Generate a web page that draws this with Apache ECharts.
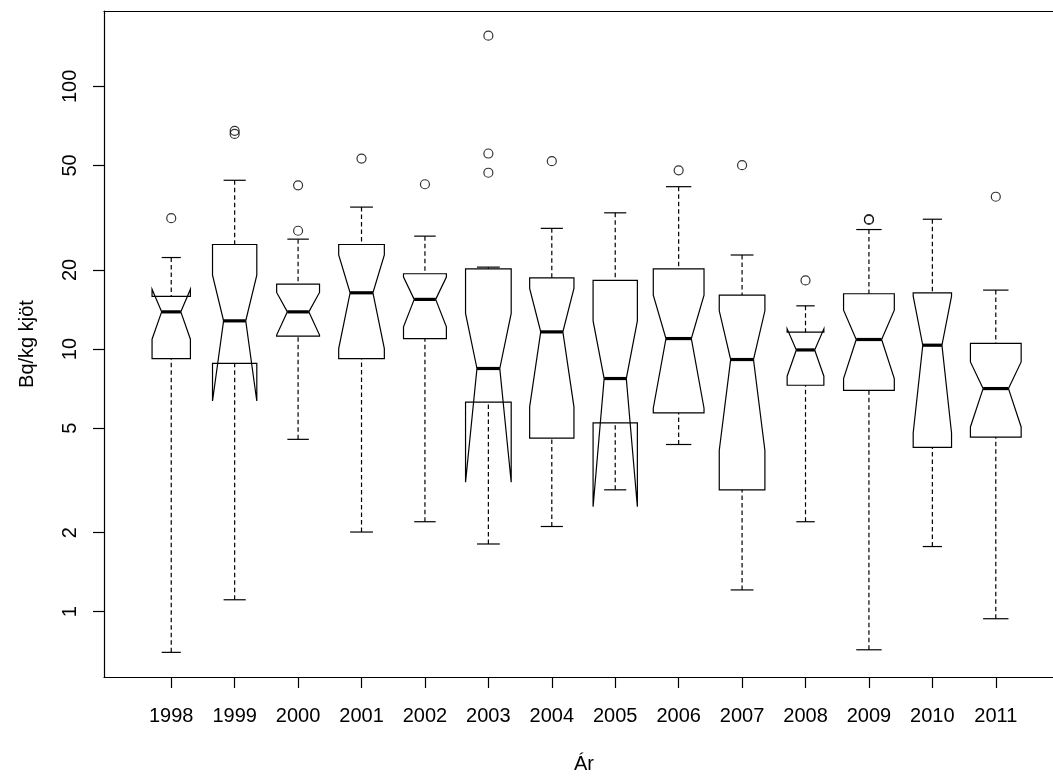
<!DOCTYPE html>
<html>
<head>
<meta charset="utf-8">
<script src="https://cdn.jsdelivr.net/npm/echarts@6/dist/echarts.min.js"></script>
<style>
  html, body { margin: 0; padding: 0; background: #ffffff; }
  #chart { width: 1053px; height: 776px; }
</style>
</head>
<body>
<div id="chart"></div>
<script>
// Cs-137 in lamb meat per year (Bq/kg), notched boxplot on a log scale
const years = ['1998', '1999', '2000', '2001', '2002', '2003', '2004',
               '2005', '2006', '2007', '2008', '2009', '2010', '2011'];

const lowerWhisker = [0.70, 1.11, 4.53, 2.01, 2.20, 1.81, 2.11, 2.91, 4.33, 1.21, 2.20, 0.716, 1.77, 0.94];
const lowerHinge   = [9.20, 8.81, 11.2, 9.20, 10.96, 6.28, 4.58, 5.23, 5.71, 2.91, 7.28, 6.96, 4.22, 4.62];
const notchLow     = [10.9, 6.34, 11.3, 10.04, 12.14, 3.11, 6.02, 2.51, 5.95, 4.11, 7.88, 7.72, 4.79, 5.05];
const median       = [13.85, 12.8, 13.85, 16.37, 15.45, 8.43, 11.62, 7.72, 10.96, 9.12, 9.92, 10.87, 10.34, 7.07];
const notchHigh    = [16.9, 19.1, 16.42, 22.8, 18.8, 13.66, 17.0, 12.8, 16.04, 13.98, 11.93, 14.06, 15.9, 8.93];
const upperHinge   = [15.86, 25.0, 17.66, 25.0, 19.34, 20.2, 18.67, 18.25, 20.2, 16.04, 11.59, 16.23, 16.37, 10.5];
const upperWhisker = [22.3, 43.9, 26.2, 34.7, 26.9, 20.5, 28.8, 33.0, 41.5, 22.8, 14.6, 28.5, 31.2, 16.76];
const sampleSize   = [12, 16, 15, 17, 15, 17, 16, 16, 21, 17, 11, 21, 12, 21];

const outliers = [
  [31.5],
  [67.7, 65.9],
  [42.0, 28.2],
  [53.1],
  [42.4],
  [156, 55.5, 46.9],
  [51.9],
  [],
  [47.9],
  [50.1],
  [18.25],
  [31.2, 31.0],
  [],
  [38.0]
];

const yTickValues = [1, 2, 5, 10, 20, 50, 100];

// ---- derived series data ----
const maxN = Math.max.apply(null, sampleSize);
const boxData = years.map((y, i) => [
  i + 1, lowerWhisker[i], lowerHinge[i], notchLow[i], median[i],
  notchHigh[i], upperHinge[i], upperWhisker[i], sampleSize[i]
]);
const outlierData = [];
outliers.forEach((list, i) => list.forEach(v => outlierData.push([i + 1, v])));
const xTickValues = years.map((y, i) => i + 1);

const INK = '#000000';
const FONT = '"Liberation Sans", Arial, Helvetica, sans-serif';
const LW = 1.2;

function renderBox(params, api) {
  const x = api.value(0);
  const lw = api.value(1), b1 = api.value(2), nl = api.value(3), md = api.value(4);
  const nh = api.value(5), b3 = api.value(6), uw = api.value(7), n = api.value(8);
  // box width grows with the square root of the group size
  const half = 0.4 * Math.sqrt(n / maxN);
  const notchHalf = half * 0.5;
  const stapleHalf = half * 0.5;
  const P = (dx, v) => api.coord([x + dx, v]);

  const outline = [
    P(-half, b1), P(-half, nl), P(-notchHalf, md), P(-half, nh), P(-half, b3),
    P(half, b3), P(half, nh), P(notchHalf, md), P(half, nl), P(half, b1)
  ];
  const lineStyle = { stroke: INK, lineWidth: LW, fill: null };
  const dashStyle = { stroke: INK, lineWidth: LW, lineDash: [4.5, 3], fill: null };

  const seg = (a, b, style) => ({
    type: 'line',
    shape: { x1: a[0], y1: a[1], x2: b[0], y2: b[1] },
    style: style
  });

  return {
    type: 'group',
    children: [
      { type: 'polygon', shape: { points: outline }, style: { stroke: INK, lineWidth: LW, fill: 'rgba(0,0,0,0)' } },
      seg(P(-notchHalf, md), P(notchHalf, md), { stroke: INK, lineWidth: 3.2 }),
      seg(P(0, lw), P(0, b1), dashStyle),
      seg(P(0, uw), P(0, b3), dashStyle),
      seg(P(-stapleHalf, lw), P(stapleHalf, lw), lineStyle),
      seg(P(-stapleHalf, uw), P(stapleHalf, uw), lineStyle)
    ]
  };
}

// horizontal extent: the plot region runs from -0.06 and is cut at the right page edge
const X_MIN = -0.06;
const X_MAX = 14.902;

const chart = echarts.init(document.getElementById('chart'), null, { renderer: 'canvas' });
chart.setOption({
  animation: false,
  backgroundColor: '#ffffff',
  textStyle: { fontFamily: FONT },
  grid: {
    left: 104, top: 11, right: 0, height: 666,
    outerBoundsMode: 'none',
    containLabel: false,
    show: false
  },
  xAxis: [
    {
      type: 'value',
      min: X_MIN, max: X_MAX,
      position: 'bottom',
      name: 'Ár',
      nameLocation: 'middle',
      nameGap: 77,
      nameTextStyle: { fontFamily: FONT, fontSize: 20, color: INK, padding: [0, 0, 0, 11] },
      axisLine: { show: true, onZero: false, lineStyle: { color: INK, width: LW } },
      splitLine: { show: false },
      axisTick: { show: true, inside: false, length: 11, customValues: xTickValues, lineStyle: { color: INK, width: LW } },
      axisLabel: {
        show: true, margin: 29, fontFamily: FONT, fontSize: 20, color: INK,
        customValues: xTickValues,
        formatter: v => years[Math.round(v) - 1] || ''
      }
    },
    {
      // top edge of the plot frame
      type: 'value',
      min: X_MIN, max: X_MAX,
      position: 'top',
      axisLine: { show: true, onZero: false, lineStyle: { color: INK, width: LW } },
      axisTick: { show: false },
      axisLabel: { show: false },
      splitLine: { show: false }
    }
  ],
  yAxis: {
    type: 'log',
    logBase: 10,
    min: 0.564, max: 193.6,
    name: 'Bq/kg kjöt',
    nameLocation: 'middle',
    nameRotate: 90,
    nameGap: 67,
    nameTextStyle: { fontFamily: FONT, fontSize: 20, color: INK },
    axisLine: { show: true, onZero: false, lineStyle: { color: INK, width: LW } },
    splitLine: { show: false },
    axisTick: { show: true, inside: false, length: 11, customValues: yTickValues, lineStyle: { color: INK, width: LW } },
    axisLabel: {
      show: true, rotate: 90, margin: 24, fontFamily: FONT, fontSize: 20, color: INK,
      customValues: yTickValues,
      formatter: v => {
        let best = yTickValues[0];
        yTickValues.forEach(t => { if (Math.abs(Math.log10(t) - Math.log10(v)) < Math.abs(Math.log10(best) - Math.log10(v))) best = t; });
        return String(best);
      }
    }
  },
  series: [
    {
      type: 'custom',
      name: 'box',
      renderItem: renderBox,
      data: boxData,
      encode: { x: 0, y: [1, 2, 3, 4, 5, 6, 7] },
      clip: false,
      z: 2
    },
    {
      type: 'scatter',
      name: 'outliers',
      data: outlierData,
      symbol: 'circle',
      symbolSize: 9,
      itemStyle: { color: 'rgba(255,255,255,0)', borderColor: INK, borderWidth: LW },
      z: 3
    }
  ]
});
</script>
</body>
</html>
